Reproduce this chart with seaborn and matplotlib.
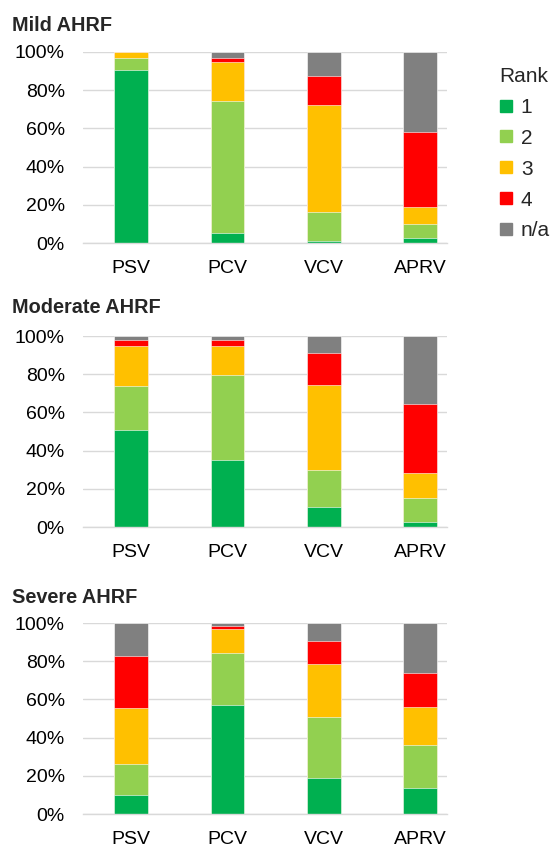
import matplotlib
matplotlib.use("Agg")
import matplotlib.pyplot as plt
import seaborn as sns
import pandas as pd
from matplotlib.lines import Line2D

# waarden (percentages per rang)
modi = ["PSV", "PCV", "VCV", "APRV"]
rangen = ["1", "2", "3", "4", "n/a"]
kleuren = ["#00B050", "#92D050", "#FFC000", "#FF0000", "#808080"]

mild = {
    "1": [90.5, 5.1, 0.9, 2.4],
    "2": [6.2, 69.2, 15.3, 7.5],
    "3": [3.3, 20.6, 56.2, 8.9],
    "4": [0.0, 1.8, 14.9, 39.1],
    "n/a": [0.0, 3.3, 12.7, 42.1],
}
matig = {
    "1": [50.8, 34.9, 10.6, 2.8],
    "2": [23.2, 44.7, 19.2, 12.2],
    "3": [20.9, 15.3, 44.5, 13.3],
    "4": [2.8, 3.0, 16.6, 36.3],
    "n/a": [2.3, 2.1, 9.1, 35.4],
}
ernstig = {
    "1": [9.8, 56.9, 18.7, 13.6],
    "2": [16.6, 27.4, 32.1, 22.5],
    "3": [29.1, 12.7, 27.9, 19.9],
    "4": [27.0, 1.6, 11.7, 17.6],
    "n/a": [17.5, 1.4, 9.6, 26.4],
}

panelen = [("Mild AHRF", mild), ("Moderate AHRF", matig), ("Severe AHRF", ernstig)]

sns.set_style("white")
plt.rcParams["font.family"] = ["Liberation Sans", "DejaVu Sans"]

fig = plt.figure(figsize=(5.5, 8.47), dpi=100)

# (onderkant as in px vanaf boven, baseline titel in px)
posities = [(243, 31), (527, 313), (814, 603)]
hoogte_px = 191

for (titel, data), (onder_px, titel_px) in zip(panelen, posities):
    ax = fig.add_axes([83 / 550, 1 - onder_px / 847, 364 / 550, hoogte_px / 847])
    df = pd.DataFrame(data, index=modi)
    cumulatief = df[rangen].cumsum(axis=1)

    # van boven naar beneden tekenen, zodat de stapeling klopt
    for rang, kleur in reversed(list(zip(rangen, kleuren))):
        sns.barplot(x=modi, y=cumulatief[rang].values, color=kleur, width=0.35,
                    edgecolor="white", linewidth=0.4, saturation=1, ax=ax)

    ax.set_ylim(0, 100)
    ax.set_xlim(-0.5, 3.28)
    ax.set_yticks(range(0, 101, 20))
    ax.set_yticklabels([f"{v}%" for v in range(0, 101, 20)])
    ax.yaxis.grid(True, color="#D9D9D9", linewidth=1)
    ax.set_axisbelow(True)
    for kant in ["top", "right", "left"]:
        ax.spines[kant].set_visible(False)
    ax.spines["bottom"].set_color("#D9D9D9")
    ax.spines["bottom"].set_linewidth(1)
    ax.tick_params(axis="both", length=0, labelsize=14, colors="black")
    ax.tick_params(axis="y", pad=13)
    ax.tick_params(axis="x", pad=12)
    ax.set_xlabel("")
    ax.set_ylabel("")

    fig.text(12 / 550, 1 - titel_px / 847, titel, fontsize=14.3, fontweight="bold",
             va="baseline", ha="left")

handvatten = [Line2D([0], [0], marker="s", linestyle="", markersize=8,
                     markerfacecolor=k, markeredgecolor=k) for k in kleuren]
fig.legend(handvatten, rangen, title="Rank", loc="upper left",
           bbox_to_anchor=(499 / 550, 1 - 67 / 847), frameon=False,
           fontsize=15, title_fontsize=15, labelspacing=0.57,
           handlelength=0.7, handletextpad=0.35, borderaxespad=0,
           borderpad=0, alignment="left")

fig.savefig("out.png", dpi=100)
